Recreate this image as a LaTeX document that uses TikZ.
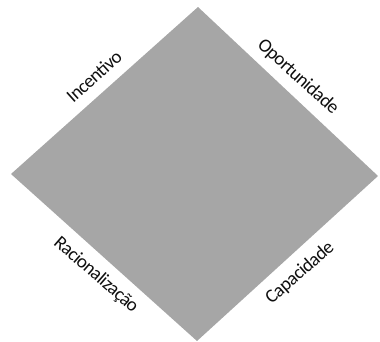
\documentclass[tikz,border=0pt]{standalone}
\usepackage{fontspec}
\setmainfont{Carlito}
\newfontfamily\lblfont[LetterSpace=-3]{Carlito}
\definecolor{fillgray}{RGB}{166,166,166}
\definecolor{txt}{RGB}{15,15,15}
\begin{document}
\begin{tikzpicture}[x=1pt,y=-1pt,
  lbl/.style={font=\lblfont\fontsize{19}{19}\selectfont, text=txt, inner sep=0pt}]
\useasboundingbox (0,0) rectangle (380,341);
\coordinate (T) at (198,7);
\coordinate (R) at (378,176);
\coordinate (B) at (197,341);
\coordinate (L) at (11,174);
\fill[fillgray] (T) -- (R) -- (B) -- (L) -- cycle;
\node[lbl, rotate=42] (inc) at (94,76) {Incentivo};
\node[lbl, rotate=-42] (opo) at (298,77) {Oportunidade};
\node[lbl, rotate=-41] (rac) at (96,275) {Racionalização};
\node[lbl, rotate=41] (cap) at (300,273) {Capacidade};
\end{tikzpicture}
\end{document}
